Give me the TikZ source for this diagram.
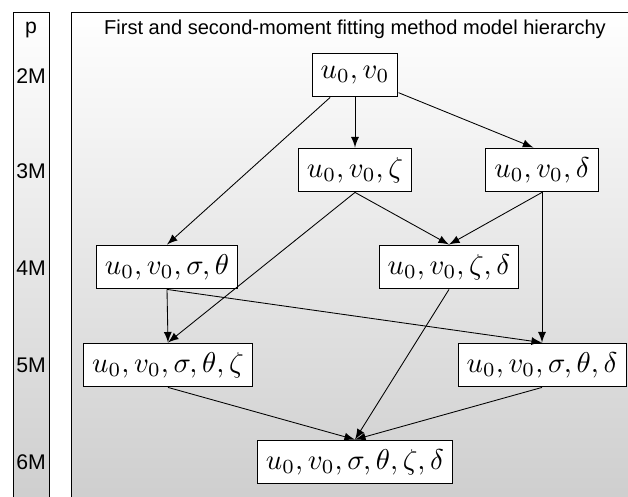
\documentclass[tikz,border=0pt]{standalone}
\usepackage{fontspec}
\setsansfont{Liberation Sans}
\usepackage{tikz}
\usetikzlibrary{arrows,shapes}

\tikzset{
    model/.style={draw,fill=white,inner sep=3pt,minimum height=15.3pt,line width=0.35pt},
    lvl/.style={font=\sffamily\fontsize{7.4}{8}\selectfont},
    edge/.style={-latex,line width=0.3pt}
}

\begin{document}
\begin{tikzpicture}[x=0.349pt,y=-0.349pt]
    \clip (0,0) rectangle (628,497);
    \shade[top color=white,bottom color=black!19] (13,12) rectangle (49,497);
    \shade[top color=white,bottom color=black!19] (71,12) rectangle (628,497);
    \draw[line width=0.3pt] (13,497) -- (13,12) -- (49,12) -- (49,497);
    \draw[line width=0.3pt] (71,497) -- (71,12) -- (628,12);

    \node[lvl] (p) at (31,30) {p};
    \node[lvl] (m2) at (31,76) {2M};
    \node[lvl] (m3) at (31,171) {3M};
    \node[lvl] (m4) at (31,268) {4M};
    \node[lvl] (m5) at (31,365) {5M};
    \node[lvl] (m6) at (31,462) {6M};
    \node[lvl,font=\sffamily\fontsize{7}{8}\selectfont] (title) at (355,29) {First and second-moment fitting method model hierarchy};

    \node[model] (v1) at (355,75) {$u_0, v_0$};
    \node[model] (v2) at (355,170) {$u_0, v_0, \zeta$};
    \node[model] (v3) at (542,170) {$u_0, v_0, \delta$};
    \node[model] (v4) at (167,267) {$u_0, v_0, \sigma, \theta$};
    \node[model] (v5) at (449,267) {$u_0, v_0, \zeta, \delta$};
    \node[model] (v6) at (168,365) {$u_0, v_0, \sigma, \theta, \zeta$};
    \node[model] (v7) at (542,365) {$u_0, v_0, \sigma, \theta, \delta$};
    \node[model] (v8) at (355,462) {$u_0, v_0, \sigma, \theta, \zeta, \delta$};

    \draw[edge] (v1) -- (v4.north);
    \draw[edge] (v1) -- (v2.north);
    \draw[edge] (v1) -- ([xshift=-3pt]v3.north);
    \draw[edge] (v2.south) -- (v6.north);
    \draw[edge] (v2.south) -- (v5.north);
    \draw[edge] (v3.south) -- (v5.north);
    \draw[edge] (v3.south) -- (v7.north);
    \draw[edge] (v4.south) -- (v6.north);
    \draw[edge] (v4.south) -- (v7.north);
    \draw[edge] (v5.south) -- (v8.north);
    \draw[edge] (v6.south) -- (v8.north);
    \draw[edge] (v7.south) -- (v8.north);
\end{tikzpicture}
\end{document}
